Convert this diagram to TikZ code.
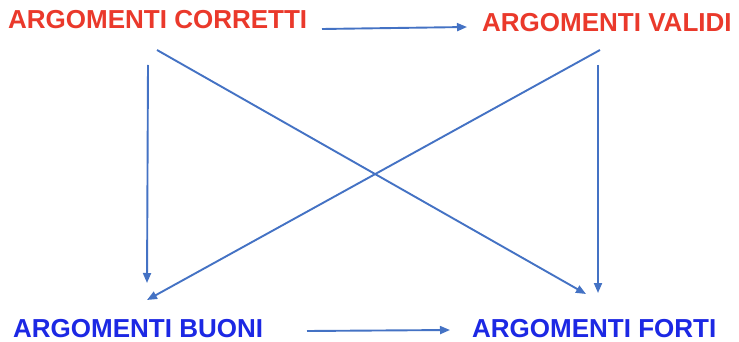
\documentclass[tikz,border=0pt]{standalone}
\usepackage{fontspec}
\setmainfont{Liberation Sans}
\usetikzlibrary{arrows.meta}
\definecolor{tred}{RGB}{234,57,43}
\definecolor{tblue}{RGB}{28,40,228}
\definecolor{arr}{RGB}{68,114,196}
\tikzset{
  lbl/.style={anchor=base west,inner sep=0pt,text depth=0pt,font=\fontsize{26}{30}\selectfont\bfseries},
  conn/.style={draw=arr,line width=1.9pt,-{Triangle[length=10pt,width=8pt]}}
}
\begin{document}
\begin{tikzpicture}[x=1pt,y=-1pt]
\useasboundingbox[fill=white] (0,0) rectangle (739,342);
\node[lbl,text=tred] (cor) at (8,29) {ARGOMENTI CORRETTI};
\node[lbl,text=tred] (val) at (482,32) {ARGOMENTI VALIDI};
\node[lbl,text=tblue] (buo) at (13,337) {ARGOMENTI BUONI};
\node[lbl,text=tblue] (for) at (472,337) {ARGOMENTI FORTI};
\coordinate (c1) at (322,29); \coordinate (v1) at (467,27);
\coordinate (c2) at (148,65); \coordinate (b2) at (147,283);
\coordinate (c3) at (157,50); \coordinate (f3) at (586,294);
\coordinate (v4) at (598,65); \coordinate (f4) at (598,293);
\coordinate (v5) at (600,50); \coordinate (b5) at (147,300);
\coordinate (b6) at (307,331); \coordinate (f6) at (450,330);
\draw[conn] (c1) -- (v1);
\draw[conn] (c2) -- (b2);
\draw[conn] (c3) -- (f3);
\draw[conn] (v4) -- (f4);
\draw[conn] (v5) -- (b5);
\draw[conn] (b6) -- (f6);
\end{tikzpicture}
\end{document}
